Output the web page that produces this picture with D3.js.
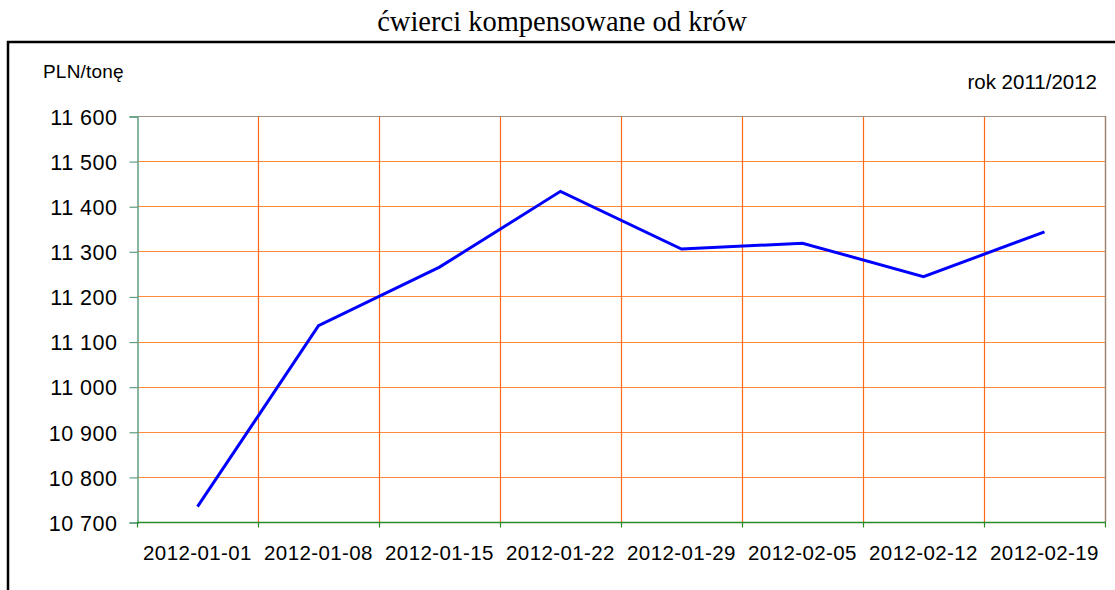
<!DOCTYPE html>
<html>
<head>
<meta charset="utf-8">
<script src="https://cdn.jsdelivr.net/npm/d3@7"></script>
<style>
  body { margin: 0; background: #fff; }
  svg { display: block; }
</style>
</head>
<body>
<div id="chart"></div>
<script>
// data
var dates = ['2012-01-01', '2012-01-08', '2012-01-15', '2012-01-22', '2012-01-29', '2012-02-05', '2012-02-12', '2012-02-19'];
var prices = [10734, 11135, 11265, 11433, 11305, 11318, 11244, 11343];
var yTicks = [10700, 10800, 10900, 11000, 11100, 11200, 11300, 11400, 11500, 11600];

var width = 1115, height = 590;
var plot = { left: 137, right: 1105, top: 116, bottom: 522 };

var svg = d3.select('#chart')
    .append('svg')
    .attr('width', width)
    .attr('height', height);

var x = d3.scaleBand()
    .domain(dates)
    .range([plot.left, plot.right])
    .padding(0);

var y = d3.scaleLinear()
    .domain([10700, 11600])
    .range([plot.bottom, plot.top]);

var fmt = d3.formatLocale({ decimal: ',', thousands: ' ', grouping: [3], currency: ['', ''] }).format(',d');

// outer frame (only top-left corner visible)
svg.append('rect')
    .attr('x', 8)
    .attr('y', 42)
    .attr('width', 1300)
    .attr('height', 800)
    .attr('fill', 'none')
    .attr('stroke', '#000')
    .attr('stroke-width', 2.5);

// title
svg.append('text')
    .attr('x', 562)
    .attr('y', 31)
    .attr('text-anchor', 'middle')
    .style('font-family', '"Liberation Serif", "Times New Roman", serif')
    .style('font-size', '28.5px')
    .text('ćwierci kompensowane od krów');

svg.append('text')
    .attr('x', 43)
    .attr('y', 78)
    .style('font-family', '"Liberation Sans", Arial, sans-serif')
    .style('font-size', '19px')
    .style('letter-spacing', '0.2px')
    .text('PLN/tonę');

svg.append('text')
    .attr('x', 1097)
    .attr('y', 89)
    .attr('text-anchor', 'end')
    .style('font-family', '"Liberation Sans", Arial, sans-serif')
    .style('font-size', '20.5px')
    .text('rok 2011/2012');

// horizontal gridlines
var hGrid = svg.append('g');
hGrid.selectAll('line')
    .data(yTicks.filter(function(d) { return d > 10700 && d < 11600; }))
    .enter()
    .append('line')
    .attr('x1', plot.left)
    .attr('x2', plot.right)
    .attr('y1', function(d) { return Math.round(y(d)) + 0.5; })
    .attr('y2', function(d) { return Math.round(y(d)) + 0.5; })
    .attr('stroke', '#ff8a3c')
    .attr('stroke-width', 1.2);

// vertical gridlines at category boundaries
var boundaries = dates.slice(1).map(function(d) { return x(d); });
svg.append('g').selectAll('line')
    .data(boundaries)
    .enter()
    .append('line')
    .attr('x1', function(d) { return Math.round(d) + 0.5; })
    .attr('x2', function(d) { return Math.round(d) + 0.5; })
    .attr('y1', plot.top)
    .attr('y2', plot.bottom)
    .attr('stroke', '#ff6a14')
    .attr('stroke-width', 1.2);

// top and right border of plot
svg.append('line')
    .attr('x1', plot.left).attr('x2', plot.right)
    .attr('y1', plot.top + 0.5).attr('y2', plot.top + 0.5)
    .attr('stroke', '#a09284').attr('stroke-width', 1.2);
svg.append('line')
    .attr('x1', plot.right + 0.5).attr('x2', plot.right + 0.5)
    .attr('y1', plot.top).attr('y2', plot.bottom)
    .attr('stroke', '#a08572').attr('stroke-width', 1.5);

// y axis
var yAxis = svg.append('g')
    .attr('transform', `translate(${plot.left + 0.5}, 0.5)`)
    .call(d3.axisLeft(y).tickValues(yTicks).tickFormat(fmt).tickSize(8).tickPadding(12));
yAxis.select('.domain').attr('stroke', '#5f9f80').attr('stroke-width', 1.5);
yAxis.selectAll('.tick line').attr('stroke', '#5f9f80').attr('stroke-width', 1.2);
yAxis.selectAll('.tick text')
    .attr('fill', '#000')
    .style('font-family', '"Liberation Sans", Arial, sans-serif')
    .style('font-size', '21.5px')
    .style('letter-spacing', '0.5px')
    .attr('dy', '0.36em');

// x axis: labels centred in bands, ticks at boundaries
var xAxis = svg.append('g')
    .attr('transform', `translate(0, ${plot.bottom + 0.5})`);
xAxis.append('line')
    .attr('x1', plot.left)
    .attr('x2', plot.right + 1)
    .attr('stroke', '#2a8a2a')
    .attr('stroke-width', 1.5);
xAxis.selectAll('line.tick')
    .data([plot.left].concat(boundaries).concat([plot.right]))
    .enter()
    .append('line')
    .attr('class', 'tick')
    .attr('x1', function(d) { return Math.round(d) + 0.5; })
    .attr('x2', function(d) { return Math.round(d) + 0.5; })
    .attr('y1', 0)
    .attr('y2', 5)
    .attr('stroke', '#2a8a2a')
    .attr('stroke-width', 1.2);
xAxis.selectAll('text')
    .data(dates)
    .enter()
    .append('text')
    .attr('x', function(d) { return x(d) + x.bandwidth() / 2; })
    .attr('y', 37)
    .attr('text-anchor', 'middle')
    .style('font-family', '"Liberation Sans", Arial, sans-serif')
    .style('font-size', '20.5px')
    .style('letter-spacing', '0.4px')
    .text(function(d) { return d; });

// price line
var line = d3.line()
    .x(function(d, i) { return x(dates[i]) + x.bandwidth() / 2; })
    .y(function(d) { return y(d); });

svg.append('path')
    .datum(prices)
    .attr('d', line)
    .attr('fill', 'none')
    .attr('stroke', '#0000ff')
    .attr('stroke-width', 3)
    .attr('stroke-linejoin', 'miter');
</script>
</body>
</html>
